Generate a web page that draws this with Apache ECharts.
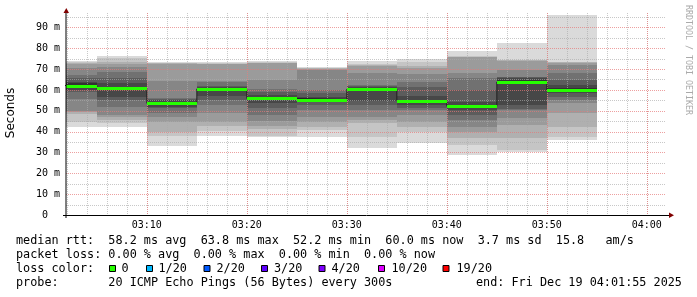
<!DOCTYPE html>
<html><head><meta charset="utf-8">
<script src="https://cdn.jsdelivr.net/npm/echarts@6/dist/echarts.min.js"></script>
<style>html,body{margin:0;padding:0;background:#fff}#c{width:697px;height:297px}</style>
</head><body><div id="c"></div>
<script>
// ---- data (times in seconds after 03:00:00) ----
const barStarts = [0, 300, 600, 900, 1200, 1500, 1800, 2100, 2400, 2700, 3000];
const barLength = 300;
const medians = [62.1, 60.8, 53.6, 60.5, 55.9, 55.4, 60.4, 54.8, 52.2, 63.8, 60.0];
// sorted smoke ping values (ms) per 5-minute step
const smoke0300 = [42.1, 44.7, 48.5, 49.5, 50.0, 55.5, 59.1, 60.0, 61.0, 63.2, 64.0, 65.6, 67.1, 70.4, 72.4, 73.0, 73.5, 73.9];
const smoke0305 = [42.4, 44.0, 45.6, 47.0, 48.0, 52.0, 55.2, 56.7, 60.0, 61.6, 63.5, 65.6, 68.7, 71.1, 72.2, 73.2, 75.2, 76.4];
const smoke0310 = [33.1, 37.9, 40.0, 44.8, 47.2, 48.8, 51.2, 52.0, 52.8, 54.4, 55.0, 55.5, 56.0, 64.4, 72.4, 72.8, 73.1, 73.5];
const smoke0315 = [38.0, 40.3, 42.7, 44.7, 48.8, 52.8, 55.2, 57.0, 60.0, 61.0, 61.2, 62.0, 63.9, 64.5, 72.4, 72.6, 72.8, 73.2];
const smoke0320 = [37.6, 38.0, 41.1, 42.7, 45.2, 48.0, 51.2, 53.5, 55.2, 56.6, 57.6, 59.0, 60.3, 64.7, 72.7, 73.0, 73.4, 73.9];
const smoke0325 = [37.6, 40.8, 42.3, 44.7, 47.2, 50.4, 52.8, 54.0, 55.0, 55.8, 56.7, 58.5, 60.0, 69.5, 70.0, 70.3, 70.6, 71.1];
const smoke0330 = [32.3, 37.6, 44.0, 45.6, 47.2, 50.4, 53.0, 54.8, 59.8, 61.0, 61.5, 62.0, 62.4, 68.0, 71.5, 72.0, 72.4, 73.9];
const smoke0335 = [34.7, 40.0, 42.3, 44.7, 48.0, 50.4, 51.2, 53.0, 54.3, 55.3, 57.0, 61.2, 64.0, 67.6, 70.5, 71.6, 73.2, 74.8];
const smoke0340 = [28.8, 33.6, 36.8, 40.0, 42.1, 45.6, 48.0, 50.5, 51.5, 52.7, 54.3, 60.0, 65.6, 68.0, 75.8, 76.0, 76.3, 78.5];
const smoke0345 = [30.4, 31.0, 36.8, 43.2, 46.4, 50.4, 50.8, 53.0, 63.0, 64.8, 65.5, 66.0, 66.3, 69.5, 74.0, 74.2, 74.3, 82.6];
const smoke0350 = [36.2, 37.6, 42.3, 48.8, 53.6, 55.0, 56.7, 58.5, 59.5, 60.7, 62.5, 64.7, 68.0, 71.9, 73.0, 73.3, 73.6, 95.9];
const xTickValues = [600, 1200, 1800, 2400, 3000, 3600];
const xTickLabels = ['03:10', '03:20', '03:30', '03:40', '03:50', '04:00'];
const yTickValues = [0, 10, 20, 30, 40, 50, 60, 70, 80, 90];
const yTickLabels = ['0  ', '10 m', '20 m', '30 m', '40 m', '50 m', '60 m', '70 m', '80 m', '90 m'];

// ---- layout / style ----
const X_MIN = 115, X_MAX = 3715, Y_MAX = 96.9;
const MONO = "'DejaVu Sans Mono', monospace";
const smokeBars = [smoke0300, smoke0305, smoke0310, smoke0315, smoke0320, smoke0325, smoke0330, smoke0335, smoke0340, smoke0345, smoke0350];
const smokeGray = [];
for (let i = 1; i <= 9; i++) smokeGray.push(Math.floor(190 / 9 * (9 - i)) + 50);

const smokeData = [];
smokeBars.forEach((cp, b) => {
  for (let k = 0; k < 9; k++) smokeData.push([barStarts[b], barStarts[b] + barLength, cp[k], cp[17 - k], k]);
});
const medianStep = barStarts.map((t, i) => [t, medians[i]]);
medianStep.push([barStarts[barStarts.length - 1] + barLength, medians[medians.length - 1]]);
const medianSeg = barStarts.map((t, i) => [t, t + barLength, medians[i]]);

// grid lines: [x, y, orient(0=vertical,1=horizontal), major?]
const gridData = [];
for (let t = 120; t < X_MAX; t += 120) gridData.push([t, 0, 0, 0]);
xTickValues.forEach(t => gridData.push([t, 0, 0, 1]));
for (let v = 5; v < Y_MAX; v += 10) gridData.push([X_MIN, v, 1, 0]);
yTickValues.slice(1).forEach(v => gridData.push([X_MIN, v, 1, 1]));

const chart = echarts.init(document.getElementById('c'), null, {renderer: 'canvas', width: 697, height: 297});

function renderSmoke(params, api) {
  const a = api.coord([api.value(0), api.value(3)]);
  const b = api.coord([api.value(1), api.value(2)]);
  const cs = params.coordSys;
  const x1 = Math.round(Math.max(a[0], cs.x)), x2 = Math.round(Math.min(b[0], cs.x + cs.width));
  const y1 = Math.round(a[1]), y2 = Math.round(b[1]);
  if (x2 <= x1) return;
  const g = smokeGray[api.value(4)];
  return {type: 'rect', shape: {x: x1, y: y1, width: x2 - x1, height: y2 - y1},
    style: {fill: 'rgb(' + g + ',' + g + ',' + g + ')'}};
}
function renderMedian(params, api) {
  const cs = params.coordSys;
  const a = api.coord([api.value(0), api.value(2)]);
  const b = api.coord([api.value(1), api.value(2)]);
  const x1 = Math.round(Math.max(a[0], cs.x)), x2 = Math.round(b[0]);
  const y = Math.round(a[1]) + 0.5;
  return {type: 'line', shape: {x1: x1, y1: y, x2: x2, y2: y}, style: {stroke: '#26ff00', lineWidth: 3}};
}
function renderGrid(params, api) {
  const cs = params.coordSys;
  const orient = api.value(2), major = api.value(3);
  const col = major ? 'rgba(230,120,120,0.7)' : 'rgba(170,170,170,0.65)';
  if (orient === 0) {
    const x = Math.round(api.coord([api.value(0), 0])[0]) + 0.5;
    return {type: 'line', shape: {x1: x, y1: cs.y, x2: x, y2: cs.y + cs.height}, style: {stroke: col, lineWidth: 1, lineDash: [1, 1]}, z2: major ? 2 : 1};
  }
  const y = Math.round(api.coord([X_MIN, api.value(1)])[1]) + 0.5;
  return {type: 'line', shape: {x1: cs.x, y1: y, x2: cs.x + cs.width, y2: y}, style: {stroke: col, lineWidth: 1, lineDash: [1, 1]}, z2: major ? 2 : 1};
}

function txt(s, x, y, extra) {
  return Object.assign({type: 'text', x: x, y: y, silent: true,
    style: {text: s, font: '11.8px ' + MONO, fill: '#000', textVerticalAlign: 'middle', verticalAlign: 'middle', textAlign: 'left', align: 'left'}}, extra || {});
}
function box(x, color) {
  return {type: 'rect', silent: true, shape: {x: x + 0.5, y: 265.5, width: 6, height: 6}, style: {fill: color, stroke: '#000', lineWidth: 1}};
}
const lossItems = [
  [109, '#26ff00', '0', 121.5], [146, '#00b8ff', '1/20', 158.5], [203.5, '#0059ff', '2/20', 216.5],
  [261, '#5e00ff', '3/20', 274], [318.5, '#7e00ff', '4/20', 331.5], [378, '#dd00ff', '10/20', 391.5],
  [442.5, '#ff0000', '19/20', 456.5]
];
const graphics = [
  {type: 'line', silent: true, shape: {x1: 63, y1: 215.5, x2: 670, y2: 215.5}, style: {stroke: '#000', lineWidth: 1}, z: 20},
  {type: 'line', silent: true, shape: {x1: 66, y1: 218, x2: 66, y2: 10}, style: {stroke: '#000', lineWidth: 1}, z: 20},
  {type: 'polygon', silent: true, shape: {points: [[63.5, 13], [69, 13], [66.3, 8]]}, style: {fill: '#800000'}, z: 21},
  {type: 'polygon', silent: true, shape: {points: [[669, 212.5], [669, 218], [674, 215.3]]}, style: {fill: '#800000'}, z: 21},
  {type: 'text', silent: true, x: 11, y: 113, rotation: Math.PI / 2,
    style: {text: 'Seconds', font: "12px 'DejaVu Sans', sans-serif", fill: '#000', textAlign: 'center', align: 'center', textVerticalAlign: 'middle', verticalAlign: 'middle'}},
  {type: 'text', silent: true, x: 688, y: 5, rotation: -Math.PI / 2,
    style: {text: 'RRDTOOL / TOBI OETIKER', font: '8.3px ' + MONO, fill: '#aaaaaa', textAlign: 'left', align: 'left', textVerticalAlign: 'middle', verticalAlign: 'middle'}},
  txt('median rtt:  58.2 ms avg  63.8 ms max  52.2 ms min  60.0 ms now  3.7 ms sd  15.8   am/s', 16, 241),
  txt('packet loss: 0.00 % avg  0.00 % max  0.00 % min  0.00 % now', 16, 255),
  txt('loss color:', 16, 269),
  txt('probe:       20 ICMP Echo Pings (56 Bytes) every 300s', 16, 283),
  txt('end: Fri Dec 19 04:01:55 2025', 476, 283)
];
lossItems.forEach(it => { graphics.push(box(it[0], it[1])); graphics.push(txt(it[2], it[3], 269)); });

chart.setOption({
  animation: false,
  backgroundColor: '#fff',
  grid: {left: 66, top: 13, width: 600, height: 202, containLabel: false},
  xAxis: {
    type: 'value', min: X_MIN, max: X_MAX,
    axisLine: {show: false}, axisTick: {show: false}, splitLine: {show: false},
    axisLabel: {customValues: xTickValues, formatter: v => xTickLabels[xTickValues.indexOf(v)] || '',
      fontFamily: 'DejaVu Sans Mono', fontSize: 10, color: '#000', margin: 5}
  },
  yAxis: {
    type: 'value', min: 0, max: Y_MAX, interval: 10,
    axisLine: {show: false}, axisTick: {show: false}, splitLine: {show: false},
    axisLabel: {showMaxLabel: false, formatter: v => { const i = yTickValues.indexOf(v); return i < 0 ? '' : yTickLabels[i]; },
      fontFamily: 'DejaVu Sans Mono', fontSize: 10, color: '#000', margin: 6}
  },
  series: [
    {type: 'custom', name: 'smoke', data: smokeData, encode: {x: [0, 1], y: [2, 3]}, renderItem: renderSmoke, z: 2, silent: true},
    {type: 'custom', name: 'grid', data: gridData, encode: {x: 0, y: 1}, renderItem: renderGrid, z: 3, silent: true},
    {type: 'line', name: 'median', data: medianStep, step: 'end', symbol: 'none', lineStyle: {color: '#202020', width: 1}, z: 4, silent: true},
    {type: 'custom', name: 'medianLoss', data: medianSeg, encode: {x: [0, 1], y: 2}, renderItem: renderMedian, z: 5, silent: true}
  ],
  graphic: graphics
});
</script></body></html>
